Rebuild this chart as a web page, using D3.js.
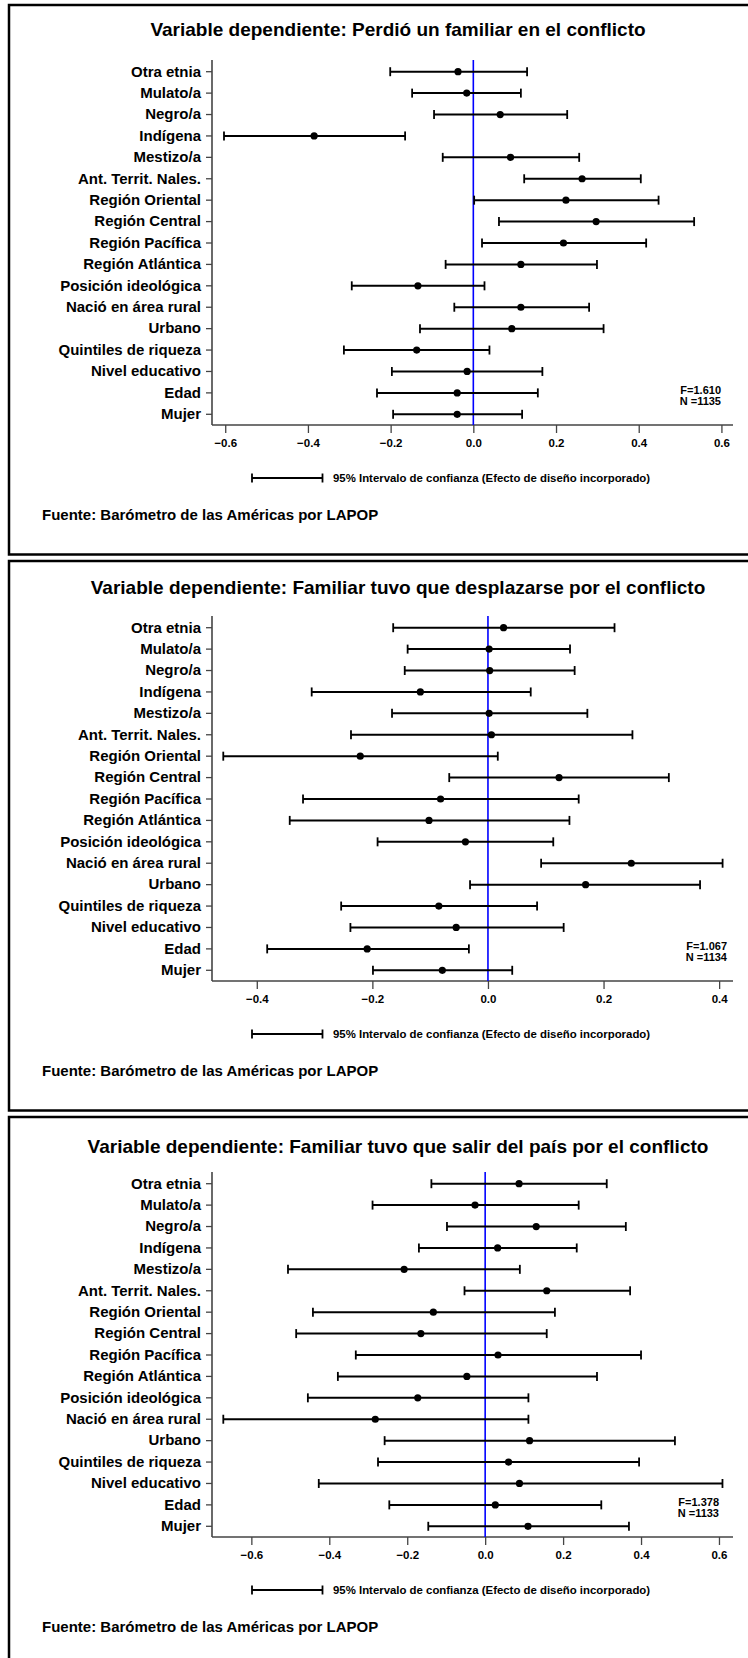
<!DOCTYPE html>
<html>
<head>
<meta charset="utf-8">
<script src="https://cdn.jsdelivr.net/npm/d3@7/dist/d3.min.js"></script>
<style>
  html, body { margin: 0; padding: 0; background: #fff; }
  svg { display: block; }
  text { font-family: "Liberation Sans", Arial, Helvetica, sans-serif; font-weight: bold; fill: #000; }
</style>
</head>
<body>
<svg id="chart" width="748" height="1658"></svg>
<script>
// ---------- data ----------
const categories = ["Otra etnia","Mulato/a","Negro/a","Indígena","Mestizo/a","Ant. Territ. Nales.",
  "Región Oriental","Región Central","Región Pacífica","Región Atlántica","Posición ideológica",
  "Nació en área rural","Urbano","Quintiles de riqueza","Nivel educativo","Edad","Mujer"];

const titles = [
  "Variable dependiente: Perdió un familiar en el conflicto",
  "Variable dependiente: Familiar tuvo que desplazarse por el conflicto",
  "Variable dependiente: Familiar tuvo que salir del país por el conflicto"
];

// Panel 1: Perdió un familiar
const est1 = [-0.037,-0.016,0.065,-0.385,0.090,0.263,0.224,0.297,0.218,0.115,-0.134,0.115,0.093,-0.137,-0.015,-0.039,-0.039];
const lo1  = [-0.201,-0.148,-0.095,-0.603,-0.074,0.123,0.002,0.062,0.021,-0.067,-0.294,-0.046,-0.129,-0.313,-0.197,-0.233,-0.194];
const hi1  = [0.130,0.115,0.227,-0.165,0.256,0.405,0.448,0.534,0.418,0.299,0.027,0.280,0.315,0.039,0.167,0.156,0.118];

// Panel 2: Desplazarse
const est2 = [0.027,0.002,0.003,-0.117,0.002,0.006,-0.221,0.123,-0.082,-0.102,-0.039,0.248,0.169,-0.085,-0.055,-0.209,-0.079];
const lo2  = [-0.164,-0.139,-0.144,-0.305,-0.166,-0.237,-0.458,-0.067,-0.320,-0.343,-0.191,0.092,-0.031,-0.254,-0.238,-0.382,-0.199];
const hi2  = [0.219,0.142,0.150,0.074,0.172,0.250,0.017,0.313,0.157,0.141,0.113,0.406,0.367,0.085,0.131,-0.033,0.042];

// Panel 3: Salir del país
const est3 = [0.087,-0.026,0.131,0.032,-0.208,0.158,-0.133,-0.165,0.033,-0.047,-0.173,-0.282,0.114,0.060,0.088,0.026,0.110];
const lo3  = [-0.138,-0.289,-0.098,-0.170,-0.506,-0.053,-0.442,-0.485,-0.332,-0.378,-0.455,-0.672,-0.258,-0.275,-0.427,-0.246,-0.146];
const hi3  = [0.312,0.240,0.361,0.235,0.089,0.372,0.179,0.158,0.400,0.287,0.111,0.111,0.487,0.395,0.609,0.298,0.369];

const fStats = ["F=1.610","F=1.067","F=1.378"];
const nStats = ["N =1135","N =1134","N =1133"];

const ticks1 = [-0.6,-0.4,-0.2,0.0,0.2,0.4,0.6];
const ticks2 = [-0.4,-0.2,0.0,0.2,0.4];
const ticks3 = [-0.6,-0.4,-0.2,0.0,0.2,0.4,0.6];

const domains = [[-0.632,0.628],[-0.4775,0.424],[-0.701,0.636]];

const legendText = "95% Intervalo de confianza (Efecto de diseño incorporado)";
const sourceText = "Fuente: Barómetro de las Américas por LAPOP";

// ---------- layout ----------
const panels = [
  {est: est1, lo: lo1, hi: hi1, ticks: ticks1, top: 60,   titleDy: -31,   statX: 721},
  {est: est2, lo: lo2, hi: hi2, ticks: ticks2, top: 616,  titleDy: -28.7, statX: 727},
  {est: est3, lo: lo3, hi: hi3, ticks: ticks3, top: 1172, titleDy: -25.5, statX: 719}
];
const plotLeft = 212, plotRight = 733, plotH = 365;

const svg = d3.select("#chart");
svg.append("rect").attr("width",748).attr("height",1658).attr("fill","#fff");

panels.forEach((p, i) => {
  const g = svg.append("g");
  const T = p.top;

  // border frame
  g.append("rect")
    .attr("x", 9).attr("y", T - 55)
    .attr("width", 800).attr("height", 549.5)
    .attr("fill", "none").attr("stroke", "#000").attr("stroke-width", 2.5);

  // title
  g.append("text")
    .attr("x", 398).attr("y", T + p.titleDy)
    .attr("dy", "0.35em")
    .attr("text-anchor", "middle")
    .style("font-size", "19px")
    .text(titles[i]);

  const x = d3.scaleLinear().domain(domains[i]).range([plotLeft, plotRight]);
  const y = d3.scaleBand().domain(categories).range([T + 1, T + plotH]);
  const yc = c => y(c) + y.bandwidth() / 2;

  // y axis
  const ya = g.append("g")
    .attr("transform", `translate(${plotLeft},0)`)
    .call(d3.axisLeft(y).tickSize(6).tickSizeOuter(0).tickPadding(5));
  ya.select(".domain").attr("d", `M0,${T}V${T + plotH}`).attr("stroke", "#444").attr("stroke-width", 1.6);
  ya.selectAll(".tick line").attr("stroke", "#444").attr("stroke-width", 1.3);
  ya.selectAll(".tick text").style("font-size", "15px").style("font-family", null).attr("fill", "#000");

  // x axis
  const xa = g.append("g")
    .attr("transform", `translate(0,${T + plotH})`)
    .call(d3.axisBottom(x).tickValues(p.ticks).tickFormat(d3.format(".1f")).tickSize(8).tickSizeOuter(0).tickPadding(6));
  xa.select(".domain").attr("d", `M${plotLeft},0H${plotRight}`).attr("stroke", "#444").attr("stroke-width", 1.6);
  xa.selectAll(".tick line").attr("stroke", "#444").attr("stroke-width", 1.3);
  xa.selectAll(".tick text").style("font-size", "11.5px").style("font-family", null).attr("fill", "#000");

  // zero line
  g.append("line")
    .attr("x1", x(0)).attr("x2", x(0))
    .attr("y1", T).attr("y2", T + plotH)
    .attr("stroke", "#0000ff").attr("stroke-width", 1.6);

  const rows = categories.map((c, k) => ({c, e: p.est[k], l: p.lo[k], h: p.hi[k]}));
  const bars = g.append("g").selectAll("g").data(rows).join("g");
  bars.append("line")
    .attr("x1", d => x(d.l)).attr("x2", d => x(d.h))
    .attr("y1", d => yc(d.c)).attr("y2", d => yc(d.c))
    .attr("stroke", "#000").attr("stroke-width", 2);
  bars.append("line")
    .attr("x1", d => x(d.l)).attr("x2", d => x(d.l))
    .attr("y1", d => yc(d.c) - 4.5).attr("y2", d => yc(d.c) + 4.5)
    .attr("stroke", "#000").attr("stroke-width", 1.8);
  bars.append("line")
    .attr("x1", d => x(d.h)).attr("x2", d => x(d.h))
    .attr("y1", d => yc(d.c) - 4.5).attr("y2", d => yc(d.c) + 4.5)
    .attr("stroke", "#000").attr("stroke-width", 1.8);
  bars.append("circle")
    .attr("cx", d => x(d.e)).attr("cy", d => yc(d.c))
    .attr("r", 3.6).attr("fill", "#000");

  // stats
  g.append("text").attr("x", p.statX).attr("y", T + 330).attr("dy", "0.35em")
    .attr("text-anchor", "end").style("font-size", "11px").text(fStats[i]);
  g.append("text").attr("x", p.statX).attr("y", T + 341).attr("dy", "0.35em")
    .attr("text-anchor", "end").style("font-size", "11px").text(nStats[i]);

  // legend
  const ly = T + 418;
  g.append("line").attr("x1", 252).attr("x2", 322.5).attr("y1", ly).attr("y2", ly)
    .attr("stroke", "#000").attr("stroke-width", 2);
  [252, 322.5].forEach(xx => g.append("line").attr("x1", xx).attr("x2", xx)
    .attr("y1", ly - 4.5).attr("y2", ly + 4.5).attr("stroke", "#000").attr("stroke-width", 1.8));
  g.append("text").attr("x", 333).attr("y", ly).attr("dy", "0.35em")
    .style("font-size", "11.4px").text(legendText);

  // source
  g.append("text").attr("x", 42).attr("y", T + 455).attr("dy", "0.35em")
    .style("font-size", "15px").text(sourceText);
});
</script>
</body>
</html>
